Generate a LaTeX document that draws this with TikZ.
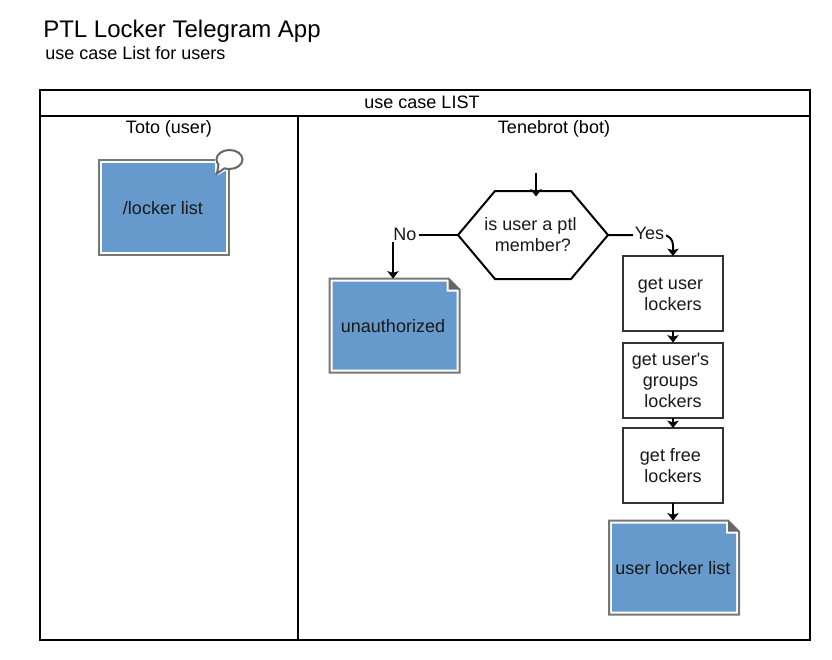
\documentclass[tikz,border=0pt]{standalone}
\usepackage{fontspec}
\setmainfont{Liberation Sans}[Ligatures=TeXOff]
\usetikzlibrary{arrows.meta,backgrounds,calc}
\definecolor{bluefill}{HTML}{6699CC}
\definecolor{docgray}{HTML}{777777}
\definecolor{foldgray}{HTML}{666666}
\definecolor{stroke}{HTML}{333333}
\def\px{0.75pt}
\def\tr{\kern3.75pt}
\tikzset{
  x=0.75pt,y=-0.75pt,
  body/.style={font=\fontsize{13.5pt}{15.75pt}\selectfont,text=black!90,align=center,inner sep=0pt,outer sep=0pt},
  lane/.style={draw=black,line width=1.5pt,inner sep=0pt,outer sep=0pt,anchor=north west},
  lanetext/.style={body,text=black},
  titletext/.style={anchor=west,inner sep=0pt,text=black,font=\fontsize{18pt}{21pt}\selectfont},
  subtext/.style={anchor=west,inner sep=0pt,text=black,font=\fontsize{13.5pt}{15.75pt}\selectfont},
  stepbox/.style={body,draw=stroke,line width=1.5pt,fill=white,minimum width=100*\px,minimum height=75*\px},
  docbox/.style={body,minimum width=130*\px,minimum height=94*\px},
  flow/.style={draw=black,line width=1.5pt,-{Stealth[length=5.5pt,width=8.5pt,inset=1.2pt]}},
  branch/.style={body,fill=white,inner sep=1.5pt},
}
\newcommand{\single}[1]{\raisebox{0pt}[\dimexpr\height+1.5pt\relax][\depth]{#1}}
% name, centre, text
\newcommand{\docshape}[4]{%
  \node[docbox] (#1) at (#2,#3) {\single{#4}};
  \begin{scope}[on background layer]
    \draw[docgray,line width=1.5pt,fill=white]
      (#1.north west) -- ++(119,0) -- ++(11,11) -- (#1.south east) -- (#1.south west) -- cycle;
    \fill[bluefill] ($(#1.north west)+(3,3)$) -- ($(#1.north east)+(-13,3)$) -- ($(#1.north east)+(-13,13)$)
      -- ($(#1.north east)+(-3,13)$) -- ($(#1.south east)+(-3,-3)$) -- ($(#1.south west)+(3,-3)$) -- cycle;
    \fill[foldgray] (#1.north east) ++(-11,0) -- ++(11,11) -- ++(-11,0) -- cycle;
  \end{scope}}
\newcommand{\lines}[1]{\raisebox{0pt}[\dimexpr\height+3pt\relax][\depth]{\begin{tabular}{@{}c@{}}#1\end{tabular}}}
\begin{document}
\renewcommand{\arraystretch}{1}
\setlength{\tabcolsep}{0pt}
\begin{tikzpicture}
\useasboundingbox (0,0) rectangle (832,660);
\node[titletext] (title) at (43,31) {PTL Locker Telegram App};
\node[subtext] (subtitle) at (45,53) {use case List for users};

\node[lane,minimum width=770*\px,minimum height=26*\px] (head) at (40,90) {};
\node[lane,minimum width=258*\px,minimum height=524*\px] (lanea) at (40,116) {};
\node[lane,minimum width=512*\px,minimum height=524*\px] (laneb) at (298,116) {};
\node[lanetext] (headt) at (422,102) {use case LIST};
\node[lanetext] (lanet1) at (169,128.5) {Toto (user)};
\node[lanetext] (lanet2) at (554,128.5) {Tenebrot (bot)};

% message box
\node[body,minimum width=130*\px,minimum height=95*\px] (msg) at (164,207.5) {\single{/locker list\kern1.5pt}};
\begin{scope}[on background layer]
  \draw[docgray,line width=1.5pt,fill=white] (msg.north west) rectangle (msg.south east);
  \fill[bluefill] ($(msg.north west)+(3,3)$) rectangle ($(msg.south east)+(-3,-3)$);
\end{scope}
\fill[white] (215,158) -- (232,158) -- (232,167) -- (218,175) -- (215,172) -- cycle;
\draw[foldgray,line width=1.5pt,fill=white,line join=miter]
  (218.5,164.5) .. controls (217,163) and (216.5,161.3) .. (216.5,159.5)
  .. controls (216.5,154.3) and (222.3,150) .. (229.5,150)
  .. controls (236.7,150) and (242.5,154.3) .. (242.5,159.5)
  .. controls (242.5,164.7) and (236.7,169) .. (229.5,169)
  .. controls (227.5,169) and (225.7,168.7) .. (224.5,168.3)
  -- (217,173.5) -- cycle;

% decision
\node[body,minimum width=150*\px,minimum height=88*\px] (hex) at (533,235) {\lines{is user a ptl\tr\\member?}};
\begin{scope}[on background layer]
  \draw[stroke,line width=1.5pt,line join=miter,fill=white]
    (hex.west) -- (495,191) -- (571,191) -- (hex.east) -- (571,279) -- (495,279) -- cycle;
\end{scope}
\coordinate (start) at (536,173);
\coordinate (hexin) at (536,196.5);
\draw[flow] (start) -- (hexin);

% documents and steps
\docshape{unauth}{394.5}{325.5}{unauthorized\kern2.25pt}
\node[stepbox] (s1) at (673,293.5) {\lines{get user\tr\\lockers}};
\node[stepbox] (s2) at (673,380) {\lines{get user's\tr\\groups\tr\\lockers}};
\node[stepbox] (s3) at (673,465.5) {\lines{get free\tr\\lockers}};
\docshape{result}{674}{567.5}{user locker list\kern1.5pt}

% connectors
\coordinate (noin) at (393,278.5);
\draw[flow] (hex.west) -| (noin);
\coordinate (yescorner) at (673,235);
\draw[flow,rounded corners=7.5pt] (hex.east) -- (yescorner) -- (s1.north);
\node[branch] (no) at (405,234) {No};
\node[branch] (yes) at (649.5,233.5) {Yes};
\draw[flow] (s1) -- (s2);
\draw[flow] (s2) -- (s3);
\draw[flow] (s3.south) -- ($(result.north)+(-1,0)$);
\end{tikzpicture}
\end{document}
